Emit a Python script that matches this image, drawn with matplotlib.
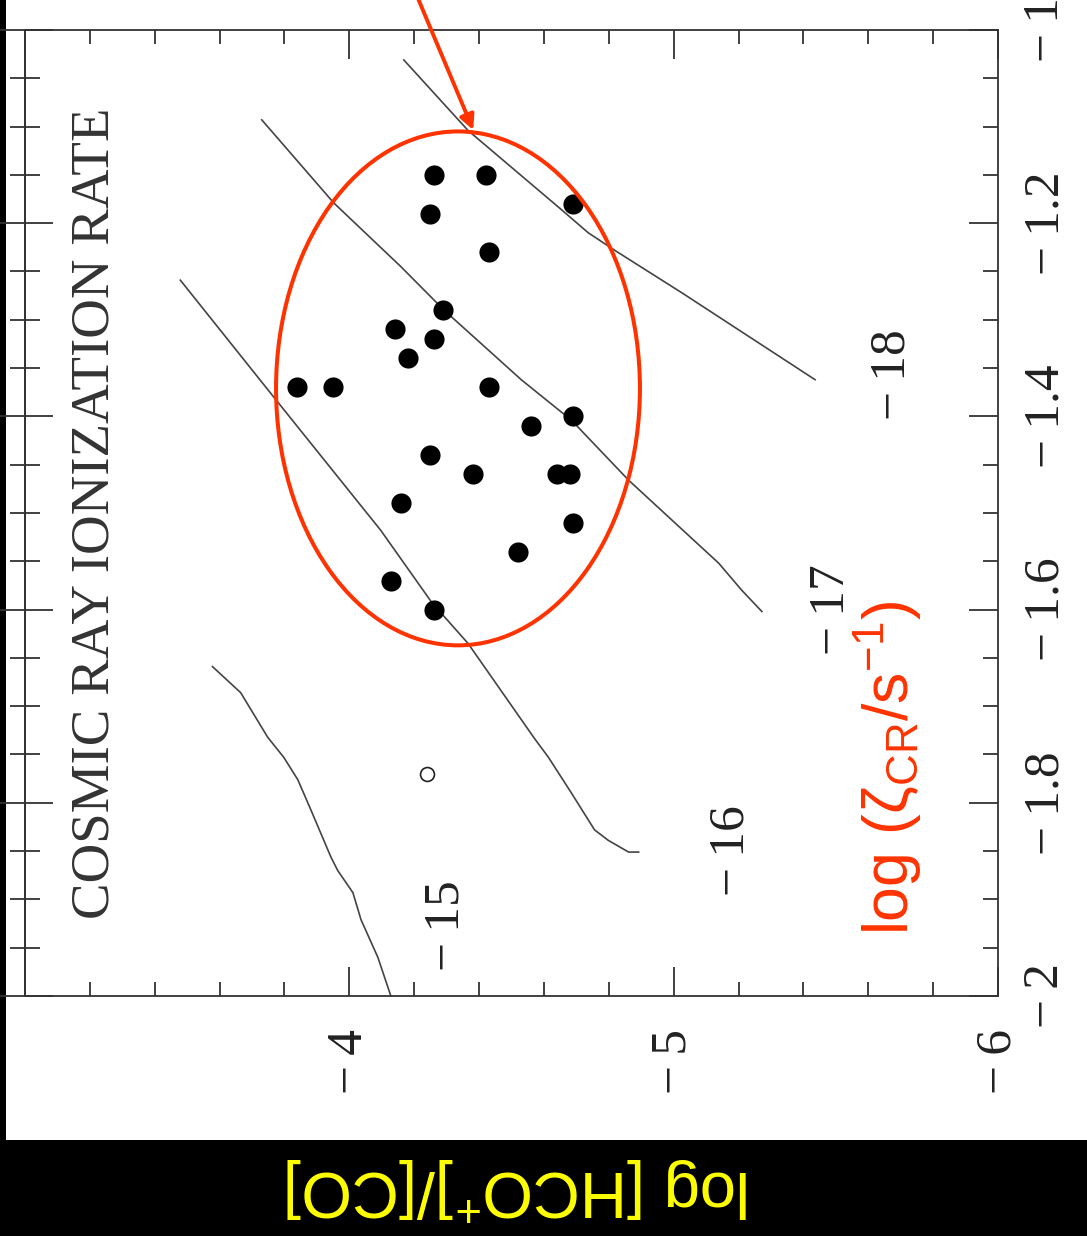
import matplotlib
matplotlib.use("Agg")
import matplotlib.pyplot as plt
from matplotlib.patches import Ellipse, Rectangle
from matplotlib.ticker import FixedLocator, MultipleLocator, FuncFormatter

plt.rcParams["mathtext.fontset"] = "custom"
plt.rcParams["mathtext.rm"] = "Liberation Sans"
plt.rcParams["mathtext.it"] = "Liberation Sans:italic"
plt.rcParams["mathtext.bf"] = "Liberation Sans:bold"

# Observed cores: log [DCO+]/[HCO+] and log [HCO+]/[CO]
dco_hco = [-1.15, -1.15, -1.19, -1.18, -1.23, -1.29, -1.31, -1.32, -1.34,
           -1.37, -1.37, -1.37, -1.40, -1.41, -1.44, -1.46, -1.46, -1.46,
           -1.49, -1.51, -1.54, -1.57, -1.60]
hco_co = [-4.26, -4.42, -4.25, -4.69, -4.43, -4.29, -4.14, -4.26, -4.18,
          -3.84, -3.95, -4.43, -4.69, -4.56, -4.25, -4.38, -4.64, -4.68,
          -4.16, -4.69, -4.52, -4.13, -4.26]

# Core with upper limit (open symbol)
open_dco_hco = [-1.77]
open_hco_co = [-4.24]

# Model curves of constant cosmic-ray ionization rate, log zeta
zeta_levels = [-15, -16, -17, -18]
model_hco_co = [
    [-3.578, -3.665, -3.748, -3.798, -3.841, -3.881, -3.943, -3.964, -4.011,
     -4.036, -4.088, -4.128],
    [-3.479, -3.767, -4.097, -4.255, -4.366, -4.570, -4.614, -4.685, -4.756,
     -4.799, -4.861, -4.892],
    [-3.730, -3.952, -4.159, -4.292, -4.530, -4.685, -4.861, -5.139, -5.210,
     -5.272],
    [-4.168, -4.366, -4.654, -4.737, -4.818, -5.025, -5.436],
]
model_dco_hco = [
    [-1.659, -1.686, -1.732, -1.753, -1.776, -1.807, -1.856, -1.870, -1.893,
     -1.921, -1.960, -2.000],
    [-1.259, -1.380, -1.518, -1.593, -1.635, -1.733, -1.753, -1.790, -1.828,
     -1.839, -1.851, -1.851],
    [-1.093, -1.179, -1.245, -1.290, -1.362, -1.404, -1.466, -1.552, -1.580,
     -1.602],
    [-1.031, -1.104, -1.186, -1.210, -1.228, -1.272, -1.362],
]
# Where each curve's label sits (log [HCO+]/[CO], log [DCO+]/[HCO+])
level_label_pos = [(-4.298, -1.927), (-5.179, -1.849), (-5.488, -1.600),
                   (-5.674, -1.357)]

title = "COSMIC RAY IONIZATION RATE"
red = "#FF3300"
serif = ["Liberation Serif", "DejaVu Serif"]
MINUS = "\u2212\u2009"

fig = plt.figure(figsize=(10.87, 12.36), dpi=100, facecolor="black")
fig.patches.append(Rectangle((6 / 1087, 1 - 1140 / 1236), 1, 1140 / 1236,
                             transform=fig.transFigure, facecolor="white",
                             edgecolor="none", zorder=-5))

ax = fig.add_axes([25 / 1087, 1 - 996 / 1236, 973 / 1087, 966 / 1236])
ax.set_facecolor("white")
ax.set_xlim(-3, -6)
ax.set_ylim(-2, -1)

for hx, dy in zip(model_hco_co, model_dco_hco):
    ax.plot(hx, dy, color="#444444", lw=1.2, zorder=2)

ax.plot(hco_co, dco_hco, "o", color="black", ms=14.5, mew=0, zorder=3)
ax.plot(open_hco_co, open_dco_hco, "o", mfc="none", mec="#222222",
        ms=10, mew=1.2, zorder=3)

for lev, (lx, ly) in zip(zeta_levels, level_label_pos):
    ax.text(lx, ly, f"{MINUS}{abs(lev)}", rotation=90, ha="center",
            va="center", fontsize=37, family=serif, color="#222222")

ax.text(0.072, 0.50, title, transform=ax.transAxes, rotation=90,
        ha="center", va="center", fontsize=39.5, family=serif,
        color="#333333")

# Selection ellipse and arrow
ax.add_patch(Ellipse((-4.335, -1.371), 1.122, 0.532, fill=False,
                     edgecolor=red, lw=2.9, zorder=4))
ax.annotate("", xy=(-4.382, -1.1035), xytext=(-4.19, -0.95),
            arrowprops=dict(arrowstyle="-|>", color=red, lw=2.8,
                            mutation_scale=22, shrinkA=0, shrinkB=0),
            annotation_clip=False, zorder=5)


def minus_fmt(v, pos):
    if abs(v + 3) < 1e-6:
        return ""
    return f"{MINUS}{abs(v):g}"


# log [HCO+]/[CO] axis (horizontal)
ax.xaxis.set_major_locator(FixedLocator([-3, -4, -5, -6]))
ax.xaxis.set_minor_locator(MultipleLocator(0.2))
ax.xaxis.set_major_formatter(FuncFormatter(minus_fmt))
ax.tick_params(axis="x", which="both", top=True, bottom=True,
               direction="in", width=1.3, color="#333333")
ax.tick_params(axis="x", which="major", length=21, labelsize=37,
               labelrotation=90, pad=24)
ax.tick_params(axis="x", which="minor", length=10)

# log [DCO+]/[HCO+] axis (vertical, labelled on the right)
ax.yaxis.set_major_locator(MultipleLocator(0.2))
ax.yaxis.set_minor_locator(MultipleLocator(0.05))
ax.yaxis.set_major_formatter(FuncFormatter(minus_fmt))
ax.tick_params(axis="y", which="both", left=False, right=True,
               labelleft=False, labelright=True, direction="in",
               width=1.3, color="#333333")
ax.tick_params(axis="y", which="major", length=21, labelsize=37,
               labelrotation=90, pad=18)
ax.tick_params(axis="y", which="minor", length=11)
for lbl in ax.get_xticklabels() + ax.get_yticklabels():
    lbl.set_family(serif)
    lbl.set_color("#222222")
for lbl in ax.get_yticklabels():
    lbl.set_va("center")

sec = ax.secondary_yaxis("left")
sec.yaxis.set_major_locator(MultipleLocator(0.2))
sec.yaxis.set_minor_locator(MultipleLocator(0.05))
sec.tick_params(which="both", direction="inout", labelleft=False,
                width=1.3, color="#333333")
sec.tick_params(which="major", length=40)
sec.tick_params(which="minor", length=21)

for sp in list(ax.spines.values()) + list(sec.spines.values()):
    sp.set_linewidth(1.3)
    sp.set_color("#333333")

fig.text(888 / 1087, 1 - 768 / 1236,
         r"log (ζ$_{\mathrm{CR}}$/s$^{-1}$)", rotation=90, ha="center",
         va="center", fontsize=45, color=red, family="Liberation Sans")
fig.text(518 / 1087, 1 - 1188 / 1236, r"log [HCO$^{+}$]/[CO]", rotation=180,
         ha="center", va="center", fontsize=47, color="#FFFF00",
         family="Liberation Sans")

fig.savefig("out.png", dpi=100, facecolor=fig.get_facecolor())
